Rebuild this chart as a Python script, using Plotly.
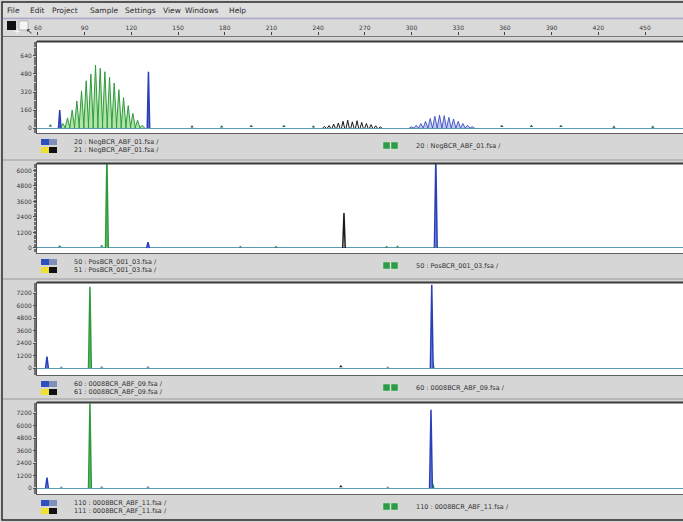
import plotly.graph_objects as go

W, H = 683, 522
def PX(p): return p / W
def PY(p): return 1 - p / H

# ---------------- data ----------------
ruler_ticks = [60, 90, 120, 150, 180, 210, 240, 270, 300, 330, 360, 390, 420, 450]
ruler_labels = [str(t) for t in ruler_ticks]
x_range = [59.4, 474.4]

menu_items = ["File", "Edit", "Project", "Sample", "Settings", "View", "Windows", "Help"]
menu_x = [5, 28, 50, 88, 123, 161, 183, 227]

p1_ticks = [0, 160, 320, 480, 640]
p2_ticks = [0, 1200, 2400, 3600, 4800, 6000]
p3_ticks = [0, 1200, 2400, 3600, 4800, 6000, 7200]
p4_ticks = [0, 1200, 2400, 3600, 4800, 6000, 7200]

# Panel 1 (negative control, polyclonal)
p1_green_size = [76, 79, 82, 85, 88, 91, 94, 97, 100, 103, 106, 109, 112, 115, 118, 121, 124, 127]
p1_green_height = [40, 90, 160, 240, 330, 420, 480, 560, 530, 500, 450, 400, 340, 270, 200, 130, 70, 25]
p1_blue_size = [74, 131]
p1_blue_height = [160, 500]
p1_black_size = [244, 247, 250, 253, 256, 259, 262, 265, 268, 271, 274, 277, 280]
p1_black_height = [15, 22, 35, 45, 60, 70, 55, 65, 50, 40, 30, 20, 10]
p1_lblue_size = [300, 303, 306, 309, 312, 315, 318, 321, 324, 327, 330, 333, 336, 339]
p1_lblue_height = [10, 25, 40, 60, 85, 105, 115, 110, 95, 80, 60, 40, 25, 12]
p1_dot_size = [68, 159, 178, 197, 218, 237, 358, 377, 396, 430, 455]
p1_dot_height = [20, 12, 12, 15, 15, 12, 15, 15, 15, 10, 10]

# Panel 2 (positive control)
p2_green_size = [104.3]
p2_green_height = [7000]
p2_blue_size = [130.7, 315.6]
p2_blue_height = [450, 7000]
p2_black_size = [256.6]
p2_black_height = [2700]
p2_dot_size = [74, 101, 190, 213, 284, 291, 315.6]
p2_dot_height = [120, 150, 80, 80, 80, 100, 150]

# Panel 3 (sample 09)
p3_green_size = [93.4, 313.5]
p3_green_height = [7800, 600]
p3_blue_size = [65.8, 313.0]
p3_blue_height = [1100, 8000]
p3_black_size = [254.6]
p3_black_height = [150]
p3_dot_size = [75, 101, 130.7, 284.8]
p3_dot_height = [60, 80, 70, 60]

# Panel 4 (sample 11)
p4_green_size = [93.4, 313.5]
p4_green_height = [8100, 400]
p4_blue_size = [65.8, 312.5]
p4_blue_height = [1000, 7500]
p4_black_size = [254.6]
p4_black_height = [150]
p4_dot_size = [75, 101, 130.7, 284.8]
p4_dot_height = [60, 80, 70, 60]

labels = [
    ("20 : NegBCR_ABF_01.fsa /", "21 : NegBCR_ABF_01.fsa /", "20 : NegBCR_ABF_01.fsa /"),
    ("50 : PosBCR_001_03.fsa /", "51 : PosBCR_001_03.fsa /", "50 : PosBCR_001_03.fsa /"),
    ("60 : 0008BCR_ABF_09.fsa /", "61 : 0008BCR_ABF_09.fsa /", "60 : 0008BCR_ABF_09.fsa /"),
    ("110 : 0008BCR_ABF_11.fsa /", "111 : 0008BCR_ABF_11.fsa /", "110 : 0008BCR_ABF_11.fsa /"),
]

# ---------------- layout geometry (pixels) ----------------
panels = [  # plot area top, bottom
    (42, 133), (164, 253), (283, 375), (403, 494)
]
yranges = [[-44, 764], [-390, 6500], [-670, 8160], [-576, 8160]]
yticks = [p1_ticks, p2_ticks, p3_ticks, p4_ticks]
X0 = 37

GREEN = "#2f9a3c"
LGREEN = "#b0e4a8"
BLUE = "#2a3fb8"
LBLUE = "#c0c8f2"
BLACK = "#1a1a1a"
BASE = "#5a9cb8"

def peaks(sizes, heights, hw):
    xs, ys = [], []
    for s, h in zip(sizes, heights):
        xs += [s - hw, s, s + hw, None]
        ys += [0, h, 0, None]
    return xs, ys

fig = go.Figure()

def add_peaks(sizes, heights, hw, line, fill, width, ax):
    xs, ys = peaks(sizes, heights, hw)
    fig.add_trace(go.Scatter(x=xs, y=ys, mode="lines", fill="tozeroy" if fill else None,
                             fillcolor=fill, line=dict(color=line, width=width),
                             xaxis=ax[0], yaxis=ax[1], hoverinfo="skip", showlegend=False))

def add_dots(sizes, heights, color, ax):
    fig.add_trace(go.Scatter(x=sizes, y=heights, mode="markers",
                             marker=dict(color=color, size=3, symbol="triangle-up"),
                             xaxis=ax[0], yaxis=ax[1], hoverinfo="skip", showlegend=False))

axes = [("x", "y"), ("x2", "y2"), ("x3", "y3"), ("x4", "y4")]

# Panel 1
a = axes[0]
add_peaks(p1_green_size, p1_green_height, 1.6, GREEN, LGREEN, 1, a)
add_peaks(p1_lblue_size, p1_lblue_height, 1.5, BLUE, LBLUE, 0.8, a)
add_peaks(p1_black_size, p1_black_height, 1.0, BLACK, None, 1, a)
add_peaks(p1_blue_size, p1_blue_height, 0.8, BLUE, "#6070d0", 1.5, a)
add_dots(p1_dot_size, p1_dot_height, "#1f5f3f", a)

# Panel 2
a = axes[1]
add_peaks(p2_green_size, p2_green_height, 0.9, GREEN, "#70c070", 1.5, a)
add_peaks(p2_blue_size, p2_blue_height, 0.9, BLUE, "#8090e0", 1.5, a)
add_peaks(p2_black_size, p2_black_height, 0.8, BLACK, None, 1.5, a)
add_dots(p2_dot_size, p2_dot_height, "#3a8a5a", a)

# Panel 3
a = axes[2]
add_peaks(p3_green_size, p3_green_height, 0.9, GREEN, "#70c070", 1.5, a)
add_peaks(p3_blue_size, p3_blue_height, 0.9, BLUE, "#8090e0", 1.5, a)
add_dots(p3_black_size, p3_black_height, BLACK, a)
add_dots(p3_dot_size, p3_dot_height, "#7a9aba", a)

# Panel 4
a = axes[3]
add_peaks(p4_green_size, p4_green_height, 0.9, GREEN, "#70c070", 1.5, a)
add_peaks(p4_blue_size, p4_blue_height, 0.9, BLUE, "#8090e0", 1.5, a)
add_dots(p4_black_size, p4_black_height, BLACK, a)
add_dots(p4_dot_size, p4_dot_height, "#7a9aba", a)

# ruler anchor trace
fig.add_trace(go.Scatter(x=[None], y=[None], xaxis="x5", yaxis="y", showlegend=False))

layout = dict(
    width=W, height=H, margin=dict(l=0, r=0, t=0, b=0, autoexpand=False),
    paper_bgcolor="#d6d6d6", plot_bgcolor="#ffffff",
    font=dict(family="DejaVu Sans", size=6, color="#3a3a3a"),
    showlegend=False,
)
for i, ((top, bot), yr, yt) in enumerate(zip(panels, yranges, yticks)):
    n = "" if i == 0 else str(i + 1)
    layout["xaxis" + n] = dict(domain=[PX(X0), 1], range=x_range, showticklabels=False,
                               ticks="", showgrid=False, zeroline=False, showline=True,
                               linecolor="#606060", linewidth=1, mirror=True,
                               anchor="y" + n, automargin=False)
    layout["yaxis" + n] = dict(domain=[PY(bot), PY(top)], range=yr, tickvals=yt,
                               ticktext=[str(v) for v in yt], ticks="outside", ticklen=3,
                               tickcolor="#505050", showgrid=False, zeroline=True,
                               zerolinecolor=BASE, zerolinewidth=1.2,
                               showline=True, linecolor="#505050", linewidth=1,
                               minor=dict(ticks="outside", ticklen=2, nticks=20, tickcolor="#707070"),
                               tickfont=dict(size=6, color="#3a3a3a"), anchor="x" + n,
                               automargin=False)
layout["xaxis5"] = dict(overlaying="x", anchor="free", position=PY(35), side="top",
                        range=x_range, tickvals=ruler_ticks, ticktext=ruler_labels,
                        ticks="outside", ticklen=3, tickcolor="#404040", showgrid=False,
                        zeroline=False, showline=False, automargin=False,
                        tickfont=dict(size=6, color="#3a3a3a"))
fig.update_layout(**layout)

shapes = []
ann = []
def rect(x0, y0, x1, y1, fill, line=None, lw=0, layer="below"):
    shapes.append(dict(type="rect", xref="paper", yref="paper", x0=PX(x0), x1=PX(x1),
                       y0=PY(y1), y1=PY(y0), fillcolor=fill,
                       line=dict(color=line or fill, width=lw), layer=layer))
def hline(x0, x1, y, color, w=1):
    shapes.append(dict(type="line", xref="paper", yref="paper", x0=PX(x0), x1=PX(x1),
                       y0=PY(y), y1=PY(y), line=dict(color=color, width=w)))

# window chrome
rect(3, 3, 683, 17, "#dedede")
rect(3, 18, 683, 36, "#d9d9d9")
hline(3, 683, 18.5, "#a8a8c8", 1.5)
hline(3, 683, 36.5, "#7a7a7a", 1)
shapes.append(dict(type="rect", xref="paper", yref="paper", x0=PX(2), x1=PX(684),
                   y0=PY(520), y1=PY(2), line=dict(color="#2a2a2a", width=1.5),
                   fillcolor="rgba(0,0,0,0)", layer="above"))
rect(7, 21, 16, 30, "#111111")
ann.append(dict(x=PX(11.5), y=PY(25.5), text="+", showarrow=False, xref="paper", yref="paper",
                font=dict(size=8, color="#ffffff")))
rect(19, 21, 28, 30, "#f4f4f4", "#888888", 0.5)
ann.append(dict(x=PX(23.5), y=PY(25.5), text="↖", showarrow=False, xref="paper", yref="paper",
                font=dict(size=8, color="#222222")))
for t, mx in zip(menu_items, menu_x):
    ann.append(dict(x=PX(mx), y=PY(10), text=t, showarrow=False, xref="paper", yref="paper",
                    xanchor="left", yanchor="middle", font=dict(size=7.5, color="#2a2a2a")))

# panel frames, label areas, icons
for i, (top, bot) in enumerate(panels):
    hline(X0, 683, top - 0.5, "#3a3a3a", 2)
    ly = bot + 11
    rect(41, ly - 5, 49, ly + 1, "#3050c0")
    rect(49, ly - 5, 57, ly + 1, "#8090b8")
    rect(41, ly + 3, 49, ly + 9, "#f0e030")
    rect(49, ly + 3, 57, ly + 9, "#111111")
    rect(383, ly - 2, 390, ly + 5, "#2e9a4a", "#cfe8cf", 0.5)
    rect(391, ly - 2, 398, ly + 5, "#2e9a4a", "#cfe8cf", 0.5)
    l1, l2, l3 = labels[i]
    ann.append(dict(x=PX(72), y=PY(ly - 2), text=l1, showarrow=False, xref="paper", yref="paper",
                    xanchor="left", yanchor="middle", font=dict(size=6.5, color="#333333")))
    ann.append(dict(x=PX(72), y=PY(ly + 6), text=l2, showarrow=False, xref="paper", yref="paper",
                    xanchor="left", yanchor="middle", font=dict(size=6.5, color="#333333")))
    ann.append(dict(x=PX(414), y=PY(ly + 1.5), text=l3, showarrow=False, xref="paper", yref="paper",
                    xanchor="left", yanchor="middle", font=dict(size=6.5, color="#333333")))
    if i < 3:
        hline(3, 683, panels[i + 1][0] - 4, "#9a9a9a", 1)

fig.update_layout(shapes=shapes, annotations=ann)
fig.write_html("out.html", config={"displayModeBar": False},
               post_script="document.body.style.margin='0';document.body.style.padding='0';")
